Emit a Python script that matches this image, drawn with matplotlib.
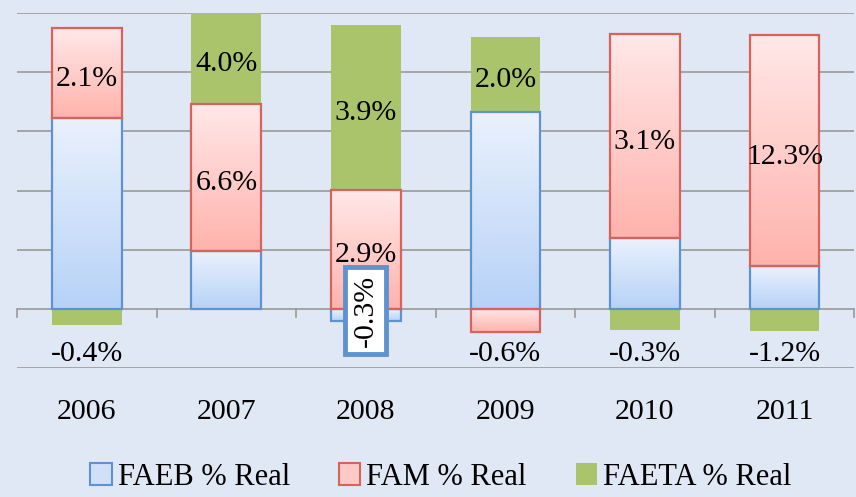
import numpy as np
import matplotlib
matplotlib.use("Agg")
import matplotlib.pyplot as plt
from matplotlib.patches import Patch
from matplotlib.colors import LinearSegmentedColormap

plt.rcParams['font.family'] = ['Liberation Serif', 'DejaVu Serif']

# data (segment heights in chart units, labels as printed)
years = ['2006', '2007', '2008', '2009', '2010', '2011']
faeb_h = [3.23, 0.98, -0.20, 3.33, 1.20, 0.72]
fam_h = [1.52, 2.49, 2.01, -0.40, 3.45, 3.91]
faeta_h = [-0.27, 1.53, 2.79, 1.27, -0.35, -0.37]
faeb_lbl = ['', '', '-0.3%', '', '', '']
fam_lbl = ['2.1%', '6.6%', '2.9%', '-0.6%', '3.1%', '12.3%']
faeta_lbl = ['-0.4%', '4.0%', '3.9%', '2.0%', '-0.3%', '-1.2%']

bg = '#e0e7f5'
fig = plt.figure(figsize=(8.56, 4.97), dpi=100, facecolor=bg)
ax = fig.add_axes([0.0199, 0.2596, 0.978, 0.714])
ax.set_facecolor('none')
ax.set_xlim(-0.5, 5.5)
ax.set_ylim(-1, 5)

# grid
for g in [-1, 1, 2, 3, 4, 5]:
    ax.axhline(g, color='#999999', lw=1.2, zorder=0)
ax.axhline(0, color='#999999', lw=1.2, zorder=0)
for t in np.arange(-0.5, 6.0, 1.0):
    ax.plot([t, t], [0, -0.14], color='#999999', lw=1.2, zorder=0, clip_on=False)

blue_cm = LinearSegmentedColormap.from_list('b', ['#b7d2f7', '#eaf1fd'])
red_cm = LinearSegmentedColormap.from_list('r', ['#ffb3ad', '#ffe8e8'])

x = np.arange(len(years))
w = 0.5
pos = np.zeros(len(years))
neg = np.zeros(len(years))
series = [(faeb_h, blue_cm, '#5f93cf', faeb_lbl),
          (fam_h, red_cm, '#d7635b', fam_lbl),
          (faeta_h, None, None, faeta_lbl)]
grad = np.linspace(0, 1, 100).reshape(-1, 1)
for heights, cm, ec, lbls in series:
    h = np.array(heights)
    bottom = np.where(h >= 0, pos, neg)
    if cm is None:
        bars = ax.bar(x, h, w, bottom=bottom, color='#a9c46a', lw=0, zorder=2)
    else:
        bars = ax.bar(x, h, w, bottom=bottom, facecolor='none', edgecolor=ec,
                      lw=1.6, zorder=3)
        for b in bars:
            x0, y0 = b.get_x(), b.get_y()
            y1 = y0 + b.get_height()
            im = ax.imshow(grad, cmap=cm, aspect='auto', origin='lower',
                           extent=[x0, x0 + w, min(y0, y1), max(y0, y1)],
                           zorder=2)
            im.set_clip_path(b)
    for i, b in enumerate(bars):
        lbl = lbls[i]
        if not lbl:
            continue
        if h[i] >= 0:
            ax.text(x[i], bottom[i] + h[i] / 2 - 0.1, lbl, ha='center',
                    va='center', fontsize=21.5, zorder=5)
        elif lbls is faeb_lbl:
            ax.text(x[i], -0.03, lbl, ha='center', va='center', rotation=90,
                    fontsize=21.5, zorder=6,
                    bbox=dict(boxstyle='square,pad=0.25', fc='white',
                              ec='#5f93cf', lw=3.5))
        else:
            ax.text(x[i], -0.76, lbl, ha='center', va='center', fontsize=21.5,
                    zorder=5)
    pos = np.where(h >= 0, pos + h, pos)
    neg = np.where(h < 0, neg + h, neg)

for i, yr in enumerate(years):
    ax.text(x[i], -1.75, yr, ha='center', va='center', fontsize=21.5,
            clip_on=False)

for s in ax.spines.values():
    s.set_visible(False)
ax.set_xticks([])
ax.set_yticks([])

handles = [Patch(facecolor='#cfe0f8', edgecolor='#5f93cf', lw=1.5),
           Patch(facecolor='#ffc9c5', edgecolor='#d7635b', lw=1.5),
           Patch(facecolor='#a9c46a', edgecolor='none')]
fig.legend(handles, ['FAEB % Real', 'FAM % Real', 'FAETA % Real'],
           loc='center', bbox_to_anchor=(0.515, 0.04), ncol=3, frameon=False,
           fontsize=22, handlelength=0.7, handleheight=0.7,
           handletextpad=0.2, columnspacing=1.6)

plt.savefig('out.png', dpi=100, facecolor=bg)
